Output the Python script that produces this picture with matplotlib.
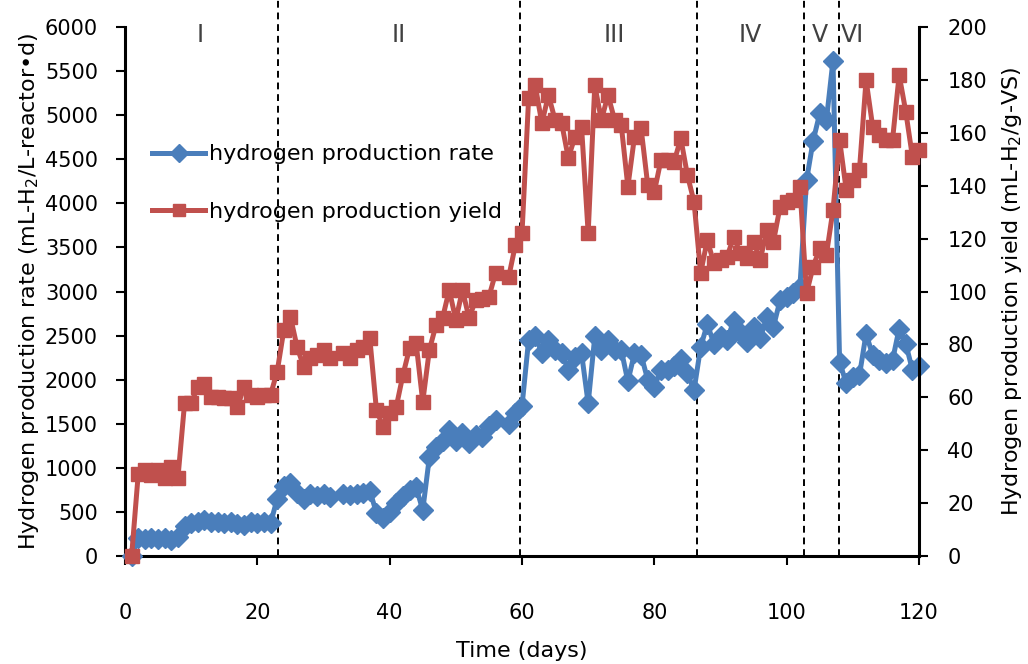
import matplotlib
matplotlib.use("Agg")
import matplotlib.pyplot as plt
from matplotlib.lines import Line2D

plt.rcParams['font.family'] = ['DejaVu Sans']

# Sampling days
days = [1, 2, 3, 4, 5, 6, 7, 8, 9, 10, 11, 12, 13, 14, 15, 16, 17, 18, 19, 20, 21, 22,
        23, 24, 25, 26, 27, 28, 29, 30, 31, 33, 34, 35, 36, 37,
        38, 39, 40, 41, 42, 43, 44, 45, 46, 47, 48,
        49, 50, 51, 52, 53, 54, 55, 56, 58, 59, 60,
        61, 62, 63, 64, 65, 66, 67, 68, 69, 70, 71, 72, 73, 74, 75, 76, 77, 78, 79, 80,
        81, 82, 83, 84, 85, 86,
        87, 88, 89, 90, 91, 92, 93, 94, 95, 96, 97, 98, 99, 100, 101, 102,
        103, 104, 105, 106, 107,
        108, 109, 110, 111, 112, 113, 114, 115, 116, 117, 118, 119, 120]

# Hydrogen production rate (mL-H2/L-reactor.d)
rate = [0, 200, 190, 200, 190, 200, 180, 210, 340, 370, 390, 410, 380, 390, 370, 380, 360, 350, 380, 370, 380, 370,
        650, 790, 830, 720, 650, 700, 680, 700, 670, 700, 690, 700, 720, 740,
        490, 430, 500, 600, 680, 750, 780, 520, 1120, 1240, 1310,
        1430, 1300, 1390, 1280, 1370, 1350, 1470, 1540, 1500, 1620, 1700,
        2450, 2500, 2300, 2450, 2340, 2300, 2110, 2260, 2300, 1730, 2490, 2340, 2450, 2340, 2340, 1980, 2300, 2280, 2000, 1920,
        2110, 2110, 2150, 2240, 2070, 1880,
        2370, 2630, 2410, 2490, 2450, 2670, 2540, 2430, 2600, 2470, 2710, 2600, 2900, 2940, 2980, 3050,
        4260, 4710, 5020, 4940, 5620,
        2200, 1960, 2030, 2050, 2520, 2280, 2220, 2190, 2220, 2580, 2410, 2110, 2160]

# Hydrogen production yield (mL-H2/g-VS)
yield_ = [0, 31, 32.5, 30.6, 32.5, 29.5, 33.8, 29.5, 57.7, 57.7, 64, 65, 60.2, 60.2, 59.6, 59.6, 56.4, 64, 61, 60, 61, 61,
          69.7, 85.4, 90.5, 79.1, 71.6, 74.7, 76, 77.9, 74.7, 76.6, 74.8, 77.9, 79.1, 82.3,
          55.2, 48.9, 54, 56.4, 68.4, 78.5, 80.4, 58.3, 77.9, 87.3, 90,
          100.6, 89.2, 100.6, 89.9, 96.8, 97, 98, 106.9, 105.6, 117.6, 122,
          173, 178, 163.6, 174.3, 164.8, 163.6, 150.4, 158.5, 162.3, 122, 178, 164.8, 174.3, 164.8, 163, 139.6, 158.5, 161.7, 140.3, 137.7,
          149.7, 149.7, 149.1, 157.9, 144, 133.9,
          106.9, 119.5, 110.7, 111.9, 113.2, 120.7, 114.4, 112.5, 118.8, 111.9, 123.2, 118.8, 132, 133.9, 134.6, 139.6,
          99.3, 109.4, 116.3, 113.8, 130.8,
          157.3, 138.4, 142.2, 145.9, 180, 162.3, 159.2, 157.3, 157.3, 181.9, 168, 151, 153.5]

# Operating phase boundaries and labels
phase_bounds = [23.1, 59.7, 86.4, 102.6, 107.9]
phase_labels = ['I', 'II', 'III', 'IV', 'V', 'VI']
phase_label_x = [11.3, 41.3, 73.9, 94.5, 105, 110]

x_ticks = [0, 20, 40, 60, 80, 100, 120]
rate_ticks = list(range(0, 6001, 500))
yield_ticks = list(range(0, 201, 20))

BLUE = '#4A7EBB'
RED = '#C0504D'
FS = 16
TICK_FS = 15

fig = plt.figure(figsize=(10.28, 6.64), dpi=100)
ax = fig.add_axes([125 / 1028, 1 - 556 / 664, (919 - 125) / 1028, (556 - 27) / 664])
ax2 = ax.twinx()

ax.plot(days, rate, color=BLUE, lw=3.6, marker='D', ms=10.5, mfc=BLUE, mec=BLUE,
        label='hydrogen production rate', zorder=3, clip_on=False)
ax2.plot(days, yield_, color=RED, lw=3.6, marker='s', ms=10.5, mfc=RED, mec=RED,
         label='hydrogen production yield', zorder=3, clip_on=False)

for b in phase_bounds:
    ax.axvline(b, ymin=0, ymax=556 / 529, color='black', ls=(0, (3.5, 2.5)), lw=1.4,
               clip_on=False, zorder=1)

for lab, xpos in zip(phase_labels, phase_label_x):
    ax.text(xpos, 0.984, lab, transform=ax.get_xaxis_transform(), ha='center', va='center',
            fontsize=FS + 1, color='#404040')

ax.set_xlim(0, 120)
ax.set_ylim(0, 6000)
ax2.set_ylim(0, 200)
ax.set_xticks(x_ticks)
ax.set_yticks(rate_ticks)
ax2.set_yticks(yield_ticks)

for a in (ax, ax2):
    a.spines['top'].set_visible(False)
    for s in ('left', 'right', 'bottom'):
        a.spines[s].set_linewidth(2.2)
ax.spines['right'].set_visible(False)
ax2.spines['left'].set_visible(False)
ax2.spines['bottom'].set_visible(False)

ax.tick_params(axis='y', direction='out', length=6.5, width=1.5, labelsize=TICK_FS, pad=13)
ax.tick_params(axis='x', direction='out', length=6.5, width=1.5, labelsize=TICK_FS, pad=27)
ax2.tick_params(axis='y', direction='out', length=6.5, width=1.5, labelsize=TICK_FS, pad=14)

ax.set_xlabel('Time (days)', fontsize=FS, labelpad=13)
ax.set_ylabel('Hydrogen production rate (mL-H$_2$/L-reactor\u2022d)', fontsize=FS, labelpad=3)
ax2.set_ylabel('Hydrogen production yield (mL-H$_2$/g-VS)', fontsize=FS, labelpad=9)

handles = [
    Line2D([], [], color=BLUE, lw=3.6, marker='D', ms=9, mfc=BLUE, mec=BLUE),
    Line2D([], [], color=RED, lw=3.6, marker='s', ms=9, mfc=RED, mec=RED),
]
leg = ax2.legend(handles, ['hydrogen production rate', 'hydrogen production yield'],
                 loc='upper left', bbox_to_anchor=(0.034, 0.778), frameon=False, fontsize=FS,
                 handlelength=2.4, handletextpad=0.15, labelspacing=1.7, borderaxespad=0,
                 borderpad=0)
leg.set_zorder(10)

fig.savefig('out.png', dpi=100)
